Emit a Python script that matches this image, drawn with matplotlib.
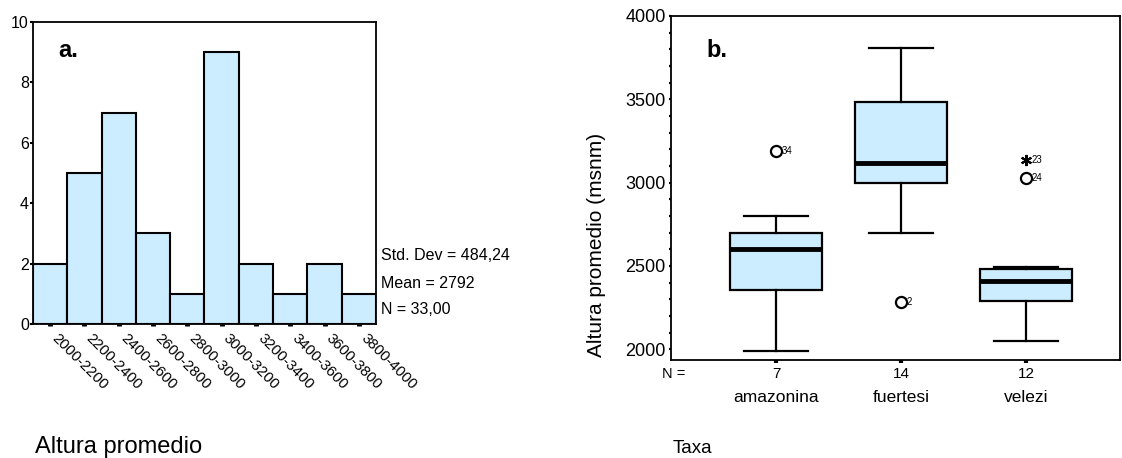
import numpy as np
import matplotlib
matplotlib.use("Agg")
import matplotlib.pyplot as plt
import matplotlib.transforms as mtransforms

plt.rcParams['font.family'] = ['Liberation Sans', 'DejaVu Sans']

# Panel a: histogram of mean altitude
bin_labels = ["2000-2200", "2200-2400", "2400-2600", "2600-2800", "2800-3000",
              "3000-3200", "3200-3400", "3400-3600", "3600-3800", "3800-4000"]
counts = [2, 5, 7, 3, 1, 9, 2, 1, 2, 1]
stats_text = ["Std. Dev = 484,24", "Mean = 2792", "N = 33,00"]

# Panel b: boxplots per taxon
taxa = ["amazonina", "fuertesi", "velezi"]
n_per_taxon = [7, 14, 12]
whisker_low = [1990, 2700, 2050]
q1 = [2355, 3000, 2290]
medians = [2600, 3115, 2410]
q3 = [2695, 3485, 2480]
whisker_high = [2800, 3810, 2495]
outlier_vals = [[3190], [2285], [3030]]
outlier_ids = [["34"], ["2"], ["24"]]
extreme_vals = [[], [], [3135]]
extreme_ids = [[], [], ["23"]]

fill = '#CCECFF'

fig = plt.figure(figsize=(11.22, 4.58), dpi=100)

# ---- panel a ----
ax1 = fig.add_axes([0.0294, 0.2926, 0.3057, 0.6594])
pos = np.arange(len(counts))
ax1.bar(pos, counts, width=1.0, color=fill, edgecolor='black', linewidth=1.5)
ax1.set_xlim(-0.5, len(counts) - 0.5)
ax1.set_ylim(0, 10)
ax1.set_yticks([0, 2, 4, 6, 8, 10])
ax1.tick_params(axis='y', length=2, width=1.5, pad=1, labelsize=11.5)
ax1.set_xticks(pos)
ax1.set_xticklabels(bin_labels, rotation=-45, ha='left', va='top',
                    rotation_mode='anchor', fontsize=10.8)
ax1.tick_params(axis='x', length=1.5, width=3.5, pad=4)
offset = mtransforms.ScaledTranslation(9 / 100, 0, fig.dpi_scale_trans)
for lab in ax1.get_xticklabels():
    lab.set_transform(lab.get_transform() + offset)
for sp in ax1.spines.values():
    sp.set_linewidth(1.3)
ax1.text(0.073, 0.884, "a.", transform=ax1.transAxes, fontsize=17,
         fontweight='bold', ha='left', va='baseline')
for i, s in enumerate(stats_text):
    fig.text(381 / 1122, 1 - (256 + 27 * i) / 458, s, fontsize=11.5,
             ha='left', va='center')
fig.text(35 / 1122, 1 - 453 / 458, "Altura promedio", fontsize=17,
         ha='left', va='baseline')

# ---- panel b ----
ax2 = fig.add_axes([671 / 1122, 1 - 360 / 458, 449 / 1122, 344 / 458])
stats = []
for i in range(len(taxa)):
    stats.append(dict(label=taxa[i], whislo=whisker_low[i], q1=q1[i],
                      med=medians[i], q3=q3[i], whishi=whisker_high[i],
                      fliers=outlier_vals[i]))
xs = np.arange(1, len(taxa) + 1)
ax2.bxp(stats, positions=xs, widths=0.74, capwidths=0.51, patch_artist=True,
        boxprops=dict(facecolor=fill, edgecolor='black', linewidth=1.6),
        medianprops=dict(color='black', linewidth=3.5),
        whiskerprops=dict(color='black', linewidth=1.6),
        capprops=dict(color='black', linewidth=1.6),
        flierprops=dict(marker='o', markersize=8, markerfacecolor='white',
                        markeredgecolor='black', markeredgewidth=1.6))
for i, x in enumerate(xs):
    for v, lab in zip(outlier_vals[i], outlier_ids[i]):
        ax2.annotate(lab, (x, v), xytext=(4, 0), textcoords='offset points',
                     fontsize=7, va='center', ha='left')
    for v, lab in zip(extreme_vals[i], extreme_ids[i]):
        ax2.plot([x], [v], marker=(6, 2, 0), markersize=8, color='black',
                 markeredgewidth=1.5, linestyle='none')
        ax2.annotate(lab, (x, v), xytext=(4, 0), textcoords='offset points',
                     fontsize=7, va='center', ha='left')
ax2.set_xlim(0.16, 3.752)
ax2.set_ylim(1935, 4000)
ax2.set_yticks([2000, 2500, 3000, 3500, 4000])
ax2.set_yticks(np.arange(2000, 4001, 100), minor=True)
ax2.tick_params(axis='y', which='both', length=1.8, width=1.6, pad=2,
                labelsize=13)
ax2.set_xticks(xs)
ax2.set_xticklabels([])
ax2.tick_params(axis='x', length=2, width=3)
for sp in ax2.spines.values():
    sp.set_linewidth(1.3)
tr = mtransforms.blended_transform_factory(ax2.transData, ax2.transAxes)
for i, x in enumerate(xs):
    ax2.text(x, -0.0407, str(n_per_taxon[i]), transform=tr, fontsize=11,
             ha='center', va='center')
    ax2.text(x, -0.1076, taxa[i], transform=tr, fontsize=12.5,
             ha='center', va='center')
fig.text(662 / 1122, 1 - 374 / 458, "N =", fontsize=10.5, ha='left',
         va='center')
ax2.text(0.08, 0.88, "b.", transform=ax2.transAxes, fontsize=17,
         fontweight='bold', ha='left', va='baseline')
fig.text(596 / 1122, 1 - 245 / 458, "Altura promedio (msnm)", fontsize=15,
         rotation=90, ha='center', va='center')
fig.text(673 / 1122, 1 - 453 / 458, "Taxa", fontsize=13.5, ha='left',
         va='baseline')

fig.savefig("out.png", dpi=100)
